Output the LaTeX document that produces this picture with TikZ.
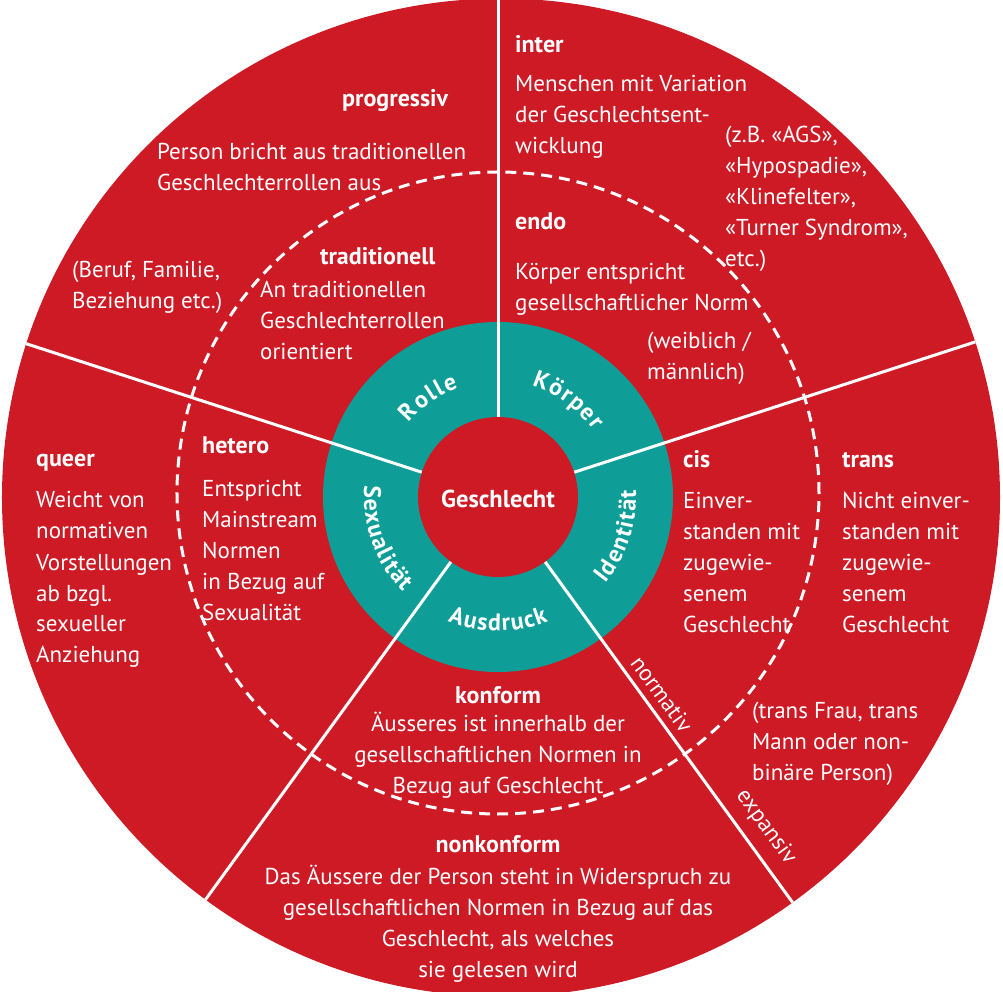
\documentclass[tikz,border=0pt]{standalone}
\usepackage{fontspec}
\setmainfont{PT Sans}
\usetikzlibrary{calc,decorations.text}
\definecolor{gred}{RGB}{205,26,36}
\definecolor{gteal}{RGB}{14,158,151}
\newcommand{\bodyfnt}{\fontsize{23}{31}\selectfont}
\newcommand{\headfnt}{\fontsize{24}{31}\selectfont\bfseries}
\newcommand{\ringfnt}{\bfseries\fontsize{24}{26}\selectfont}
\begin{document}
\begin{tikzpicture}[x=1pt,y=1pt,
  txt/.style={text=white,font=\bodyfnt,inner sep=0pt,align=left,anchor=base west},
  ctxt/.style={text=white,font=\bodyfnt,inner sep=0pt,align=center,anchor=base},
  head/.style={text=white,font=\headfnt,inner sep=0pt,anchor=base west},
  chead/.style={text=white,font=\headfnt,inner sep=0pt,anchor=base},
  spoke/.style={draw=white,line width=3pt},
  axislabel/.style={text=white,font=\bodyfnt,inner sep=0pt,rotate=-54},
  ringlabel/.style={decorate,decoration={text along path,text align={fit to path},text color=white,text={|\ringfnt|#1}}}
]
\useasboundingbox (-498,-495) rectangle (505,497);
\fill[gred] (3,-0.5) circle[radius=499];
\fill[gteal] (0,0) circle[radius=175];
\draw[white,line width=3pt,dash pattern=on 11pt off 7pt] (0,4) circle[radius=321];
\foreach \a/\n in {90/a,18/b,-54/c,-126/d,162/e} {
  \coordinate (in\n) at (\a:80);
  \coordinate (out\n) at (\a:505);
}
\begin{scope}
\clip (3,-0.5) circle[radius=499];
\foreach \n in {a,b,c,d,e} \draw[spoke] (in\n) -- (out\n);
\end{scope}
\fill[gred] (0,0) circle[radius=80];
\node[chead,font=\fontsize{24.5}{28}\selectfont\bfseries] (g) at (0,-11) {Geschlecht};
% ring labels
\path[ringlabel=Rolle] (140:116) arc[start angle=140,end angle=110,radius=116];
\path[ringlabel=Körper] (73:116) arc[start angle=73,end angle=35,radius=116];
\path[ringlabel=Identität] (-39:138) arc[start angle=-39,end angle=3,radius=138];
\path[ringlabel=Ausdruck] (-112:134) arc[start angle=-112,end angle=-68,radius=134];
\path[ringlabel=Sexualität] (175:134) arc[start angle=175,end angle=225,radius=134];
% Rolle
\node[head] (progh) at (-156,390) {progressiv};
\node[txt] (progt) at (-341,306) {Person bricht aus traditionellen\\Geschlechterrollen aus};
\node[txt] (rolex) at (-426,188) {(Beruf, Familie,\\Beziehung etc.)};
\node[head] (tradh) at (-178,232) {traditionell};
\node[txt] (tradt) at (-238,137) {An traditionellen\\Geschlechterrollen\\orientiert};
% Koerper
\node[head] (interh) at (17,444) {inter};
\node[txt] (intert) at (17,343) {Menschen mit Variation\\der Geschlechtsent-\\wicklung};
\node[txt] (interx) at (227,230) {(z.B. «AGS»,\\«Hypospadie»,\\«Klinefelter»,\\«Turner Syndrom»,\\etc.)};
\node[head] (endoh) at (17,267) {endo};
\node[txt] (endot) at (17,186) {Körper entspricht\\gesellschaftlicher Norm};
\node[txt] (endox) at (149,117) {(weiblich /\\männlich)};
% Identitaet
\node[head] (cish) at (185,29) {cis};
\node[txt] (cist) at (185,-136) {Einver-\\standen mit\\zugewie-\\senem\\Geschlecht};
\node[head] (transh) at (344,29) {trans};
\node[txt] (transt) at (344,-136) {Nicht einver-\\standen mit\\zugewie-\\senem\\Geschlecht};
\node[txt] (transx) at (254,-283) {(trans Frau, trans\\Mann oder non-\\binäre Person)};
% Sexualitaet
\node[head] (queerh) at (-462,30) {queer};
\node[txt] (queert) at (-462,-166) {Weicht von\\normativen\\Vorstellungen\\ab bzgl.\\sexueller\\Anziehung};
\node[head] (heteroh) at (-296,43) {hetero};
\node[txt] (heterot) at (-296,-124) {Entspricht\\Mainstream\\Normen\\in Bezug auf\\Sexualität};
% Ausdruck
\node[chead] (konh) at (0,-206) {konform};
\node[ctxt] (kont) at (0,-296) {Äusseres ist innerhalb der\\gesellschaftlichen Normen in\\Bezug auf Geschlecht};
\node[chead] (nonh) at (0,-355) {nonkonform};
\node[ctxt] (nont) at (0,-480) {Das Äussere der Person steht in Widerspruch zu\\gesellschaftlichen Normen in Bezug auf das\\Geschlecht, als welches\\sie gelesen wird};
% axis labels
\node[axislabel] (norm) at (164,-197) {normativ};
\node[axislabel] (expa) at (268,-330) {expansiv};
\end{tikzpicture}
\end{document}
